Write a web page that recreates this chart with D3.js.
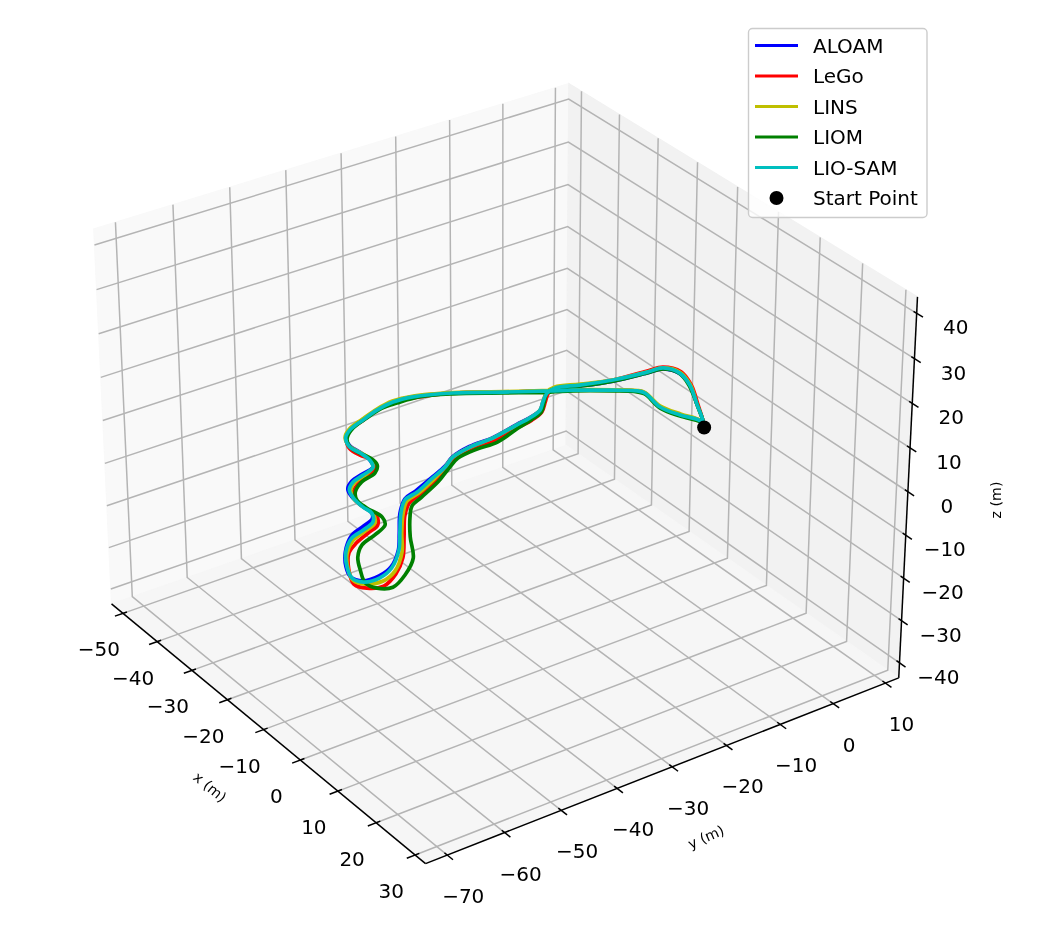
<!DOCTYPE html><html><head><meta charset="utf-8"><script src="https://cdn.jsdelivr.net/npm/d3@7"></script>
<style>html,body{margin:0;background:#fff}svg{display:block;filter:blur(0.5px)}text{font-family:"DejaVu Sans";fill:#000}</style></head><body><svg id="c" width="1043" height="932"></svg>
<script>
const xTicks=[-50,-40,-30,-20,-10,0,10,20,30];
const yTicks=[-70,-60,-50,-40,-30,-20,-10,0,10];
const zTicks=[-40,-30,-20,-10,0,10,20,30,40];
const xLim=[-53.3777,32.6359],yLim=[-73.7504,12.5636],zLim=[-43.6022,43.5927];
const start=[0,-0.4,0];
const aloamX=[0.0,-1.8,-6.0,-11.6,-15.2,-18.0,-18.4,-19.3,-20.9,-22.4,-22.0,-20.1,-18.3,-17.3,-16.7,-15.5,-15.3,-14.2,-12.5,-11.0,
-9.0,-8.0,-5.0,-0.3,3.6,6.9,8.0,7.8,5.9,3.2,-0.3,-3.6,-4.8,-5.9,-7.3,-9.9,-12.9,-15.2,-16.8,-17.6,
-18.4,-20.4,-23.3,-25.6,-28.0,-29.7,-31.1,-32.4,-33.1,-32.7,-30.2,-26.1,-22.3,-20.5,-17.0,-14.7,-13.5,-8.7,-5.0,-1.8,0.0];
const aloamY=[-0.4,0.7,2.8,5.6,6.5,5.3,2.5,-3.3,-8.3,-12.0,-13.8,-15.9,-17.7,-20.3,-23.2,-28.4,-32.8,-36.6,-39.2,-42.4,
-46.8,-49.4,-52.3,-55.6,-58.4,-61.9,-64.7,-67.4,-68.2,-67.2,-65.0,-61.8,-59.1,-56.6,-55.7,-55.7,-55.5,-54.7,-52.9,-50.6,
-48.1,-47.3,-47.2,-47.4,-46.6,-44.7,-41.4,-38.0,-34.6,-31.2,-25.5,-19.1,-13.0,-10.0,-5.0,-2.1,-1.5,-2.2,-1.2,0.2,-0.4];
const legoX=[0.0,-1.8,-5.9,-11.5,-15.7,-18.5,-18.9,-19.6,-21.2,-22.6,-21.9,-19.9,-17.7,-16.5,-15.9,-14.7,-14.4,-13.4,-11.7,-9.7,
-7.8,-6.6,-3.9,0.8,5.8,8.9,10.7,9.8,7.8,3.9,0.2,-1.5,-2.9,-4.0,-6.5,-9.1,-11.9,-14.2,-15.5,-16.6,
-18.1,-20.3,-22.5,-24.9,-27.7,-29.7,-30.9,-32.3,-32.9,-32.4,-30.2,-26.1,-22.3,-20.5,-17.0,-14.7,-13.5,-8.7,-5.0,-1.8,0.0];
const legoY=[-0.4,0.7,2.9,5.8,7.0,5.6,2.9,-3.1,-8.2,-11.8,-13.6,-15.6,-17.8,-20.5,-23.3,-28.5,-32.8,-36.7,-39.4,-42.7,
-46.7,-49.6,-52.2,-55.5,-59.1,-62.4,-65.7,-68.0,-68.9,-67.2,-64.7,-62.3,-59.3,-56.9,-55.5,-55.7,-55.6,-54.3,-52.7,-50.2,
-47.6,-47.0,-47.7,-47.9,-46.7,-44.7,-41.7,-38.3,-34.9,-31.4,-25.5,-19.1,-13.0,-10.0,-5.0,-2.1,-1.5,-2.2,-1.2,0.2,-0.4];
const linsX=[0.0,-1.8,-6.0,-11.8,-15.8,-18.3,-18.6,-19.6,-21.4,-22.9,-22.3,-20.1,-18.3,-17.2,-16.6,-15.4,-15.1,-14.1,-12.3,-10.3,
-8.2,-7.3,-4.5,-0.1,4.4,8.2,9.5,8.7,6.8,3.9,0.3,-2.3,-3.5,-4.7,-7.0,-9.4,-12.2,-14.7,-16.3,-17.1,
-18.4,-20.7,-23.4,-25.7,-28.3,-30.0,-31.4,-32.7,-33.4,-32.9,-30.3,-26.2,-22.4,-20.6,-17.1,-14.8,-13.6,-8.9,-5.1,-2.0,0.0];
const linsY=[-0.4,0.7,2.8,5.8,6.8,5.5,2.7,-3.1,-8.0,-11.7,-13.6,-15.9,-17.7,-20.4,-23.2,-28.4,-32.8,-36.6,-39.3,-42.6,
-46.8,-49.5,-52.1,-55.3,-58.3,-62.1,-65.0,-67.6,-68.4,-67.3,-65.1,-62.4,-59.6,-56.9,-55.7,-55.6,-55.6,-54.5,-52.7,-50.4,
-48.1,-47.1,-47.3,-47.5,-46.5,-44.6,-41.3,-37.8,-34.5,-31.0,-25.4,-19.0,-12.9,-9.9,-4.9,-2.0,-1.4,-2.0,-0.9,0.3,-0.4];
const liomX=[0.0,-1.8,-6.2,-11.7,-15.6,-18.0,-18.4,-19.3,-20.9,-22.4,-22.0,-19.8,-17.7,-16.6,-15.7,-14.0,-14.0,-13.4,-11.7,-9.3,
-7.0,-5.7,-3.0,1.5,6.7,9.9,11.7,10.6,8.5,5.1,1.9,-0.6,-1.9,-3.4,-5.5,-9.0,-11.7,-13.8,-15.7,-16.8,
-18.6,-20.9,-23.5,-25.7,-27.9,-29.9,-31.3,-32.5,-32.5,-32.1,-30.0,-25.9,-22.0,-20.3,-16.8,-14.5,-13.3,-8.4,-4.7,-1.5,0.0];
const liomY=[-0.4,0.7,2.9,5.5,6.5,5.3,2.5,-3.3,-8.3,-12.0,-13.8,-15.9,-17.9,-20.6,-23.6,-28.6,-32.3,-36.2,-39.0,-42.6,
-47.1,-49.7,-51.9,-54.9,-57.9,-61.5,-64.8,-66.8,-67.4,-66.0,-64.3,-61.9,-58.8,-56.0,-55.1,-55.5,-55.4,-54.3,-51.9,-48.8,
-47.2,-46.9,-47.5,-47.5,-46.4,-44.0,-40.6,-37.0,-34.3,-30.3,-25.7,-19.3,-13.2,-10.1,-5.1,-2.3,-1.7,-2.4,-1.4,0.0,-0.4];
const liosamX=[0.0,-1.8,-6.0,-11.6,-15.5,-18.3,-18.6,-19.6,-21.2,-22.6,-22.0,-20.1,-18.3,-17.2,-16.6,-15.4,-15.1,-14.1,-12.3,-10.7,
-8.6,-7.7,-4.9,-0.3,3.6,7.2,8.5,8.1,6.3,3.3,-0.3,-3.1,-4.0,-5.1,-7.3,-9.5,-12.5,-14.8,-16.4,-17.3,
-18.4,-20.4,-23.0,-25.4,-28.0,-29.7,-31.1,-32.4,-33.1,-32.7,-30.2,-26.1,-22.3,-20.5,-17.0,-14.7,-13.5,-8.7,-5.0,-1.8,0.0];
const liosamY=[-0.4,0.7,2.8,5.6,6.6,5.5,2.7,-3.1,-8.2,-11.8,-13.8,-15.9,-17.7,-20.4,-23.2,-28.4,-32.8,-36.6,-39.3,-42.6,
-46.8,-49.6,-52.2,-55.5,-58.3,-62.0,-64.9,-67.5,-68.2,-67.1,-64.9,-62.0,-59.4,-57.0,-55.7,-55.8,-55.5,-54.7,-53.0,-50.6,
-48.1,-47.3,-47.3,-47.6,-46.6,-44.7,-41.4,-38.0,-34.6,-31.2,-25.5,-19.1,-13.0,-10.0,-5.0,-2.1,-1.5,-2.2,-1.2,0.2,-0.4];
const seriesNames=['ALOAM','LeGo','LINS','LIOM','LIO-SAM'];
const seriesColors=['#0000ff','#ff0000','#bfbf00','#008000','#00bfbf'];
const seriesX=[aloamX,legoX,linsX,liomX,liosamX];
const seriesY=[aloamY,legoY,linsY,liomY,liosamY];

const rad=Math.PI/180,el=30.6762*rad,az=-34.9285*rad,dist=10,bxy=1.1428,bz=0.8902;
const bX=d3.scaleLinear(xLim,[-bxy/2,bxy/2]),bY=d3.scaleLinear(yLim,[-bxy/2,bxy/2]),bZ=d3.scaleLinear(zLim,[-bz/2,bz/2]);
const scrX=d3.scaleLinear([-0.1,0.1],[500.4583-505.87465,500.4583+505.87465]);
const scrY=d3.scaleLinear([-0.1,0.1],[455.7555+493.45577,455.7555-493.45577]);
const w=[Math.cos(el)*Math.cos(az),Math.cos(el)*Math.sin(az),Math.sin(el)];
const u=[-Math.sin(az),Math.cos(az),0];
const v=[-Math.sin(el)*Math.cos(az),-Math.sin(el)*Math.sin(az),Math.cos(el)];
const dot=(a,b)=>a[0]*b[0]+a[1]*b[1]+a[2]*b[2];
function pr(x,y,z){const p=[bX(x),bY(y),bZ(z)],d=dist-dot(w,p);return [scrX(dot(u,p)/d),scrY(dot(v,p)/d)];}
const [x0,x1]=xLim,[y0,y1]=yLim,[z0,z1]=zLim;
const svg=d3.select('#c');
const line=d3.line();
const seg=(g,pts,col,wd)=>g.append('path').attr('d',line(pts.map(p=>pr(...p)))).attr('fill','none').attr('stroke',col).attr('stroke-width',wd).attr('stroke-linejoin','miter');
const pane=(pts,col)=>svg.append('path').attr('d',line(pts.map(p=>pr(...p)))+'Z').attr('fill',col).attr('stroke',col).attr('stroke-width',1.2);
pane([[x0,y0,z0],[x0,y1,z0],[x0,y1,z1],[x0,y0,z1]],'#f9f9f9');
pane([[x0,y1,z0],[x1,y1,z0],[x1,y1,z1],[x0,y1,z1]],'#f2f2f2');
pane([[x0,y0,z0],[x1,y0,z0],[x1,y1,z0],[x0,y1,z0]],'#f6f6f6');
const grid=svg.append('g'),GC='#b4b4b4',GW=1.5;
xTicks.forEach(x=>seg(grid,[[x,y0,z0],[x,y1,z0],[x,y1,z1]],GC,GW));
yTicks.forEach(y=>seg(grid,[[x1,y,z0],[x0,y,z0],[x0,y,z1]],GC,GW));
zTicks.forEach(z=>seg(grid,[[x1,y1,z],[x0,y1,z],[x0,y0,z]],GC,GW));
const ax=svg.append('g'),AC='#000',AW=1.5;
seg(ax,[[x0,y0,z0],[x1,y0,z0]],AC,AW);seg(ax,[[x1,y0,z0],[x1,y1,z0]],AC,AW);seg(ax,[[x1,y1,z0],[x1,y1,z1]],AC,AW);
const tickIn=0.72,tickOut=1.44,FS=20;
const lab=(p,dx,dy,t)=>svg.append('text').attr('x',p[0]+dx).attr('y',p[1]+dy).attr('text-anchor','middle').attr('dominant-baseline','central').attr('font-size',FS).text(t);
const fmt=v=>String(v).replace('-','\u2212');
xTicks.forEach(x=>{seg(ax,[[x,y0+tickIn,z0],[x,y0-tickOut,z0]],AC,AW);lab(pr(x,y0,z0),-24,36,fmt(x));});
yTicks.forEach(y=>{seg(ax,[[x1-tickIn,y,z0],[x1+tickOut,y,z0]],AC,AW);lab(pr(x1,y,z0),16,41,fmt(y));});
zTicks.forEach(z=>{seg(ax,[[x1-tickIn,y1,z],[x1+tickOut,y1,z]],AC,AW);lab(pr(x1,y1,z),39,14,fmt(z));});
const axisLab=(x,y,r,t)=>svg.append('text').attr('transform',`translate(${x},${y}) rotate(${r})`).attr('text-anchor','middle').attr('dominant-baseline','central').attr('font-size',14.2).attr('fill','#222').text(t);
axisLab(210,787,40,'x (m)');axisLab(706,837,-24,'y (m)');axisLab(996,500,-90,'z (m)');
const curve=d3.line().curve(d3.curveCatmullRom.alpha(0.5));
seriesNames.forEach((n,i)=>{
  svg.append('path').attr('d',curve(seriesX[i].map((x,k)=>pr(x,seriesY[i][k],0)))).attr('fill','none').attr('stroke',seriesColors[i]).attr('stroke-width',3.7).attr('stroke-linejoin','round').attr('stroke-linecap','round');
});
const sp=pr(...start);
svg.append('circle').attr('cx',sp[0]).attr('cy',sp[1]+0.6).attr('r',7).attr('fill','#000');
// legend
const lg=svg.append('g');
lg.append('rect').attr('x',748.5).attr('y',28.5).attr('width',178.5).attr('height',189).attr('rx',4).attr('fill','#fff').attr('fill-opacity',.8).attr('stroke','#ccc').attr('stroke-width',1.4);
const rowY=d3.scaleLinear([0,5],[45.5,198]);
seriesNames.concat(['Start Point']).forEach((n,i)=>{
  const y=rowY(i);
  if(i<5)lg.append('line').attr('x1',755).attr('x2',798).attr('y1',y).attr('y2',y).attr('stroke',seriesColors[i]).attr('stroke-width',2.8);
  else lg.append('circle').attr('cx',776.5).attr('cy',y).attr('r',7).attr('fill','#000');
  lg.append('text').attr('x',813).attr('y',y).attr('dominant-baseline','central').attr('font-size',FS).text(n);
});
</script></body></html>
